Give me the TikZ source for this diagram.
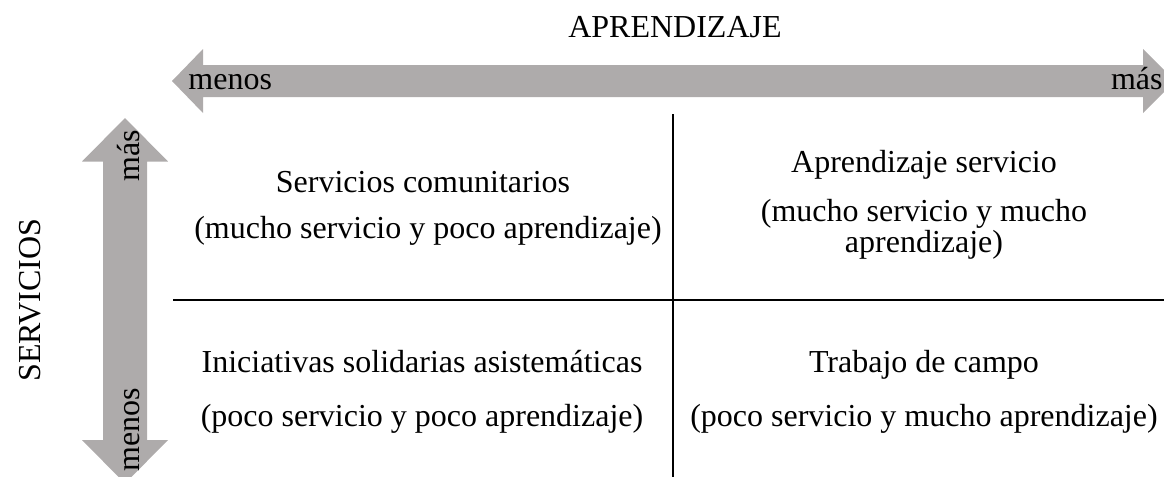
\documentclass[tikz,border=0pt]{standalone}
\usepackage{fontspec}
\setmainfont{Liberation Serif}
\usetikzlibrary{positioning}
\definecolor{arrowgray}{RGB}{174,171,171}

\begin{document}
\begin{tikzpicture}
		[x=0.5pt,y=-0.5pt,
		every node/.style={font=\fontsize{16}{15.5}\selectfont,inner sep=0pt,anchor=base},
		bigarrow/.style={fill=arrowgray},
		gridline/.style={line width=1pt},
		cell/.style={align=center}]
		\useasboundingbox (0,0) rectangle (1164,477);
		% gray double arrows
		\fill[bigarrow] (172,81) -- (203,49) -- (203,65) -- (1143,65) -- (1143,49) -- (1175,81)
			-- (1143,113) -- (1143,97) -- (203,97) -- (203,113) -- cycle;
		\fill[bigarrow] (125,118) -- (168,161.5) -- (147,161.5) -- (147,440) -- (168,440) -- (125,483.5)
			-- (82,440) -- (103,440) -- (103,161.5) -- (82,161.5) -- cycle;
		
		% axis labels
		\node (aprend) at (675,37) {APRENDIZAJE};
		\node (serv) at (40,300) [rotate=90] {SERVICIOS};
		\node (menosH) at (188,89) [anchor=base west] {menos};
		\node (masH) at (1163,89) [anchor=base east] {más};
		\node (masV) at (140,156) [rotate=90] {más};
		\node (menosV) at (140,430) [rotate=90] {menos};
		
		% quadrant lines
		\coordinate (vtop) at (673,114);
		\coordinate (vbot) at (673,477);
		\coordinate (hleft) at (173,300);
		\coordinate (hright) at (1164,300);
		\draw[gridline] (vtop) -- (vbot);
		\draw[gridline] (hleft) -- (hright);
		
		% quadrants
		\node (servcom) at (423,192) {Servicios comunitarios};
		\node (servcomsub) at (428,238) {(mucho servicio y poco aprendizaje)};
		\node (aprserv) at (924,172) {Aprendizaje servicio};
		\node[cell] (aprservsub) at (924,252) {(mucho servicio y mucho\\aprendizaje)};
		\node (inic) at (422,372) {Iniciativas solidarias asistemáticas};
		\node (inicsub) at (422,426) {(poco servicio y poco aprendizaje)};
		\node (trab) at (924,372) {Trabajo de campo};
		\node (trabsub) at (924,426) {(poco servicio y mucho aprendizaje)};
\end{tikzpicture}
\end{document}
